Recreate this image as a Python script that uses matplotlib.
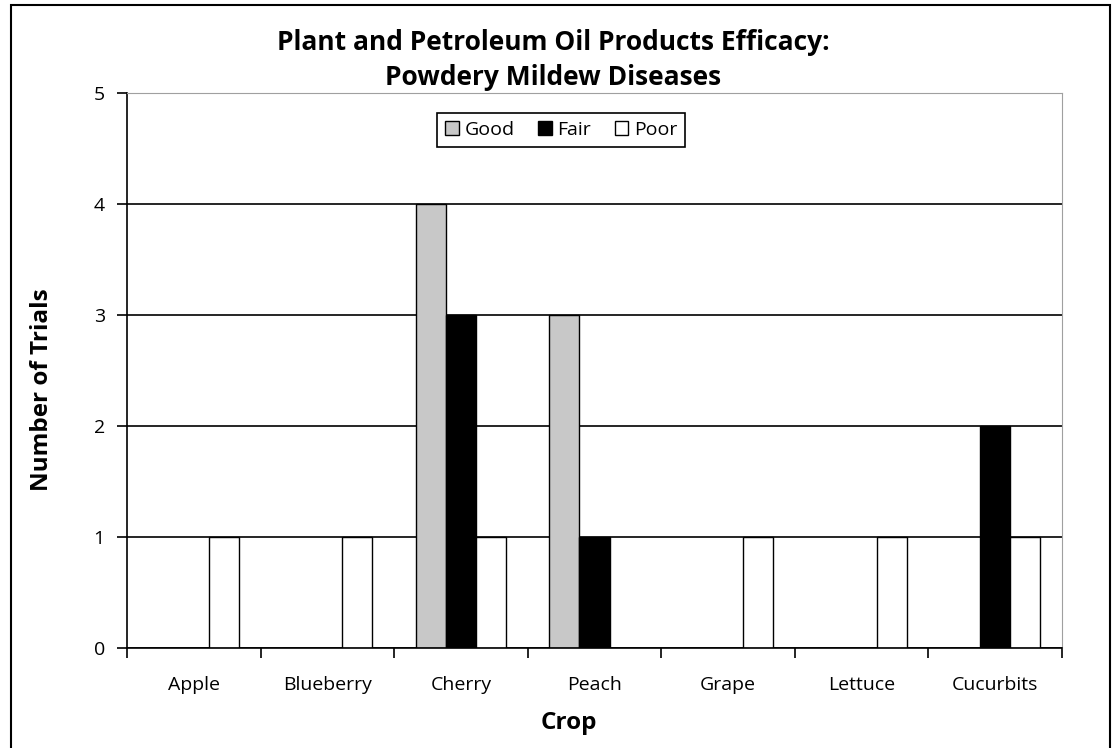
import numpy as np
import matplotlib.pyplot as plt
from matplotlib.patches import Rectangle

crops = ["Apple", "Blueberry", "Cherry", "Peach", "Grape", "Lettuce", "Cucurbits"]
good = [0, 0, 4, 3, 0, 0, 0]
fair = [0, 0, 3, 1, 0, 0, 2]
poor = [1, 1, 1, 0, 1, 1, 1]

plt.rcParams['font.family'] = ['Open Sans', 'DejaVu Sans']

fig = plt.figure(figsize=(11.13, 7.48), dpi=100)
W, H = 1113, 748
ax = fig.add_axes([127 / W, 1 - 648 / H, (1062 - 127) / W, (648 - 93) / H])

# outer frame of the chart
fig.patches.append(Rectangle((11 / W, -0.05), (1110 - 11) / W, 1.05 - 5 / H,
                             transform=fig.transFigure, fill=False,
                             edgecolor='black', linewidth=1.5))

x = np.arange(len(crops))
w = 0.225
ax.set_axisbelow(True)
ax.yaxis.grid(True, color='black', linewidth=1.2)
ax.bar(x - w, good, w, color='#c8c8c8', edgecolor='black', linewidth=1, label='Good')
ax.bar(x, fair, w, color='black', edgecolor='black', linewidth=1, label='Fair')
ax.bar(x + w, poor, w, color='white', edgecolor='black', linewidth=1, label='Poor')

ax.set_xlim(-0.5, len(crops) - 0.5)
ax.set_ylim(0, 5)
ax.set_yticks(range(6))
ax.set_xticks(np.arange(len(crops) + 1) - 0.5)
ax.set_xticklabels([])
ax.set_xticks(x, minor=True)
ax.set_xticklabels(crops, minor=True)
ax.tick_params(axis='x', which='minor', length=0, pad=20, labelsize=14)
ax.tick_params(axis='x', which='major', length=7, width=1.2, direction='out')
ax.tick_params(axis='y', length=7, width=1.2, labelsize=14, pad=9)

for s in ['top', 'right']:
    ax.spines[s].set_color('#a0a0a0')
for s in ['left', 'bottom']:
    ax.spines[s].set_linewidth(1.2)

fig.text(42 / W, 1 - 390 / H, "Number of Trials", rotation=90, ha='center', va='center',
         fontsize=17.5, fontweight='bold')
fig.text(569 / W, 1 - 723 / H, "Crop", ha='center', va='center',
         fontsize=17.5, fontweight='bold')
fig.text(553 / W, 1 - 60 / H, "Plant and Petroleum Oil Products Efficacy:\nPowdery Mildew Diseases",
         ha='center', va='center', fontsize=19, fontweight='bold', linespacing=1.4)

leg = ax.legend(loc='upper left', bbox_to_anchor=(0.332, 0.964), ncol=3,
                fancybox=False, edgecolor='black', framealpha=1, fontsize=14,
                handlelength=0.7, handleheight=0.7, handletextpad=0.3,
                columnspacing=1.2, borderpad=0.4, borderaxespad=0)
leg.get_frame().set_linewidth(1.2)

fig.savefig("out.png", dpi=100)
